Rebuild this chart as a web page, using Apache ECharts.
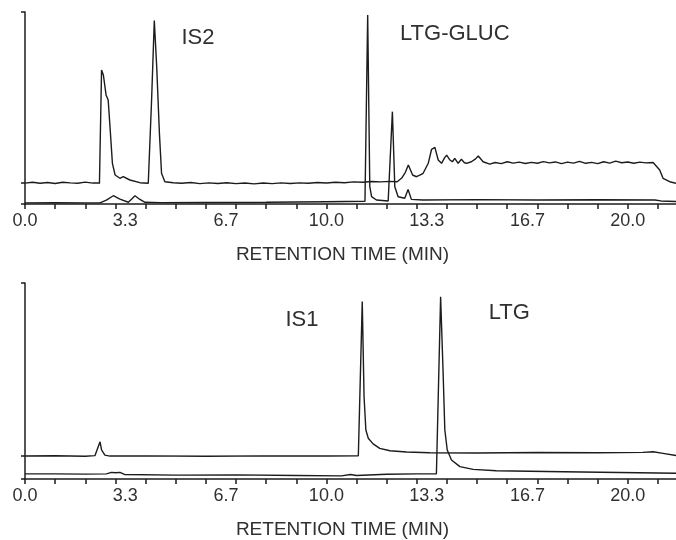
<!DOCTYPE html>
<html>
<head>
<meta charset="utf-8">
<script src="https://cdn.jsdelivr.net/npm/echarts@6/dist/echarts.min.js"></script>
<style>
  html, body { margin: 0; padding: 0; background: #fff; }
  #chart { width: 676px; height: 540px; }
</style>
</head>
<body>
<div id="chart"></div>
<script>
// Retention-time tick labels (minutes) and minor ticks (every minute)
const labelMinutes = [0, 3.33, 6.67, 10.0, 13.33, 16.67, 20.0];
const tickMinutes = [0, 1, 2, 3, 4, 5, 6, 7, 8, 9, 10, 11, 12, 13, 14, 15, 16, 17, 18, 19, 20, 21];

// Upper panel, offset trace: [time (min), relative response]
const upperOffsetTrace = [
  [0,10.9],[0.25,11.3],[0.5,10.8],[0.75,11.2],[1.0,10.7],[1.25,11.3],[1.5,11.0],[1.75,10.8],[2.0,11.4],[2.25,10.9],
  [2.4,11.0],[2.47,10.8],[2.54,69.8],[2.60,67.2],[2.69,56.8],[2.76,54.2],[2.82,40.3],[2.90,21.2],[2.99,15.1],
  [3.15,13.4],[3.26,14.2],[3.48,12.5],[3.81,11.1],[4.09,10.8],[4.12,11.0],[4.20,54],[4.29,95.5],[4.37,71.5],
  [4.46,36.8],[4.53,16],[4.64,11.6],[4.92,11.1],[5.2,10.8],[5.5,11.2],[5.8,10.6],[6.1,11.0],[6.4,10.7],[6.7,11.1],
  [7.0,10.6],[7.3,10.9],[7.6,10.5],[7.9,10.9],[8.2,10.6],[8.5,11.0],[8.8,10.7],[9.1,11.0],[9.4,10.8],[9.7,11.2],
  [10.0,10.9],[10.3,11.3],[10.6,11.1],[10.9,11.5],[11.2,11.3],[11.5,11.7],[11.8,11.5],[12.1,11.8],[12.35,11.6],
  [12.5,13.5],[12.62,16.5],[12.72,20.3],[12.77,20.0],[12.86,15.1],[12.99,14.2],[13.1,15.0],[13.21,16],[13.38,21.2],
  [13.49,28.5],[13.6,29.5],[13.71,22.9],[13.82,21.2],[13.92,24.0],[13.99,25.5],[14.10,22.9],[14.18,22.0],[14.26,23.8],
  [14.37,21.2],[14.48,23.3],[14.58,21.5],[14.65,21.2],[14.81,22],[14.95,23.5],[15.04,25],[15.2,22],[15.42,20.8],
  [15.6,21.6],[15.8,21.0],[16.0,22.0],[16.2,21.3],[16.4,21.8],[16.6,21.1],[16.8,21.7],[17.0,21.2],[17.2,22.1],
  [17.4,21.4],[17.6,21.9],[17.8,21.0],[18.0,21.8],[18.2,21.3],[18.4,22.2],[18.6,21.2],[18.8,21.7],[19.0,21.0],
  [19.2,22.0],[19.4,21.3],[19.6,22.3],[19.8,21.5],[20.0,21.9],[20.2,21.2],[20.4,21.8],[20.6,21.4],[20.84,21.6],
  [21.06,17.7],[21.17,13.4],[21.39,11.6],[21.6,10.8]
];

// Upper panel, base trace
const upperBaseTrace = [
  [0,0.6],[1.0,0.7],[2.0,0.6],[2.49,0.6],[2.7,2.0],[2.93,4.3],[3.15,2.5],[3.43,0.9],[3.65,4.3],[3.8,2.5],[3.98,0.9],
  [4.5,0.7],[6,0.8],[8,0.9],[10,1.2],[11.28,1.4],[11.37,98.4],[11.44,9],[11.5,3.8],[11.66,2.1],[12.05,1.6],
  [12.11,1.7],[12.19,48.1],[12.27,9],[12.38,3.8],[12.6,3],[12.71,7.6],[12.82,2.4],[13.2,2.1],[15,2.3],[17,2.1],
  [19,2.2],[20.9,2.1],[21.1,1.6],[21.6,1.3]
];

// Lower panel, offset trace
const lowerOffsetTrace = [
  [0,11.7],[1,11.9],[2,11.6],[2.32,11.9],[2.49,19],[2.54,14.8],[2.65,12.2],[2.82,11.7],[4,11.8],[6,11.6],[8,11.8],
  [10,11.7],[11.06,11.9],[11.19,90.5],[11.25,42],[11.31,25],[11.39,20.8],[11.55,17.9],[11.77,15.6],[12.11,14.4],
  [12.66,13.8],[13.43,13.4],[15,13.3],[17,13.5],[19,13.4],[20.5,13.6],[20.84,13.9],[21.17,13.1],[21.6,12]
];

// Lower panel, base trace
const lowerBaseTrace = [
  [0,2.6],[1,2.6],[2,2.5],[2.7,2.6],[2.87,3.4],[3.0,3.2],[3.15,3.4],[3.3,2.3],[5,2.0],[7,2.1],[9,1.8],[10.5,1.6],
  [10.8,2.3],[11.0,1.8],[12,2.4],[13.0,2.6],[13.65,2.6],[13.79,93],[13.87,55.6],[13.93,25],[14.01,14.8],[14.15,9.7],
  [14.43,6.3],[14.87,4.9],[15.64,4.2],[17.85,3.7],[21.6,2.9]
];

// Baseline marks on the response axis of each panel
const upperYTicks = [0, 10.9, 100];
const lowerYTicks = [0, 11.7, 100];

// Peak names with their [time, response] anchor
const upperPeakNames = [['IS2', 5.74, 86.5], ['LTG-GLUC', 14.26, 88.8]];
const lowerPeakNames = [['IS1', 9.19, 81], ['LTG', 16.07, 84.7]];

const axisTitle = 'RETENTION TIME (MIN)';

const ink = '#1c1c1c';
const textInk = '#303030';
const fontFamily = '"Liberation Sans", Arial, Helvetica, sans-serif';

function xAxisFor(gridIndex) {
  return {
    type: 'value', gridIndex: gridIndex, min: 0, max: 21.6,
    name: axisTitle, nameLocation: 'middle', nameGap: 41,
    nameTextStyle: { color: textInk, fontSize: 19, fontFamily: fontFamily, padding: [0, 16, 0, 0] },
    axisLine: { show: true, onZero: false, lineStyle: { color: ink, width: 1.5 } },
    axisTick: { show: true, inside: false, length: 5, customValues: tickMinutes, lineStyle: { color: ink, width: 1.5 } },
    axisLabel: {
      show: true, customValues: labelMinutes, margin: 8, color: textInk, fontSize: 18, fontFamily: fontFamily,
      formatter: v => v.toFixed(1), showMinLabel: true, showMaxLabel: true
    },
    splitLine: { show: false }
  };
}

function yAxisFor(gridIndex, ticks) {
  return {
    type: 'value', gridIndex: gridIndex, min: 0, max: 100,
    axisLine: { show: true, lineStyle: { color: ink, width: 1.5 } },
    axisTick: { show: true, inside: false, length: 4, customValues: ticks, lineStyle: { color: ink, width: 1.5 } },
    axisLabel: { show: false },
    splitLine: { show: false }
  };
}

function traceSeries(data, axisIndex, peaks) {
  const s = {
    type: 'line', xAxisIndex: axisIndex, yAxisIndex: axisIndex, data: data,
    showSymbol: false, symbol: 'none', smooth: false, silent: true, animation: false,
    lineStyle: { color: ink, width: 1.4 }
  };
  if (peaks) {
    s.markPoint = {
      symbol: 'circle', symbolSize: 0, silent: true, animation: false,
      label: {
        show: true, position: 'inside', formatter: '{b}', color: textInk,
        fontSize: 22, fontFamily: fontFamily
      },
      data: peaks.map(p => ({ name: p[0], coord: [p[1], p[2]] }))
    };
  }
  return s;
}

const chart = echarts.init(document.getElementById('chart'), null, { renderer: 'canvas' });
chart.setOption({
  backgroundColor: '#ffffff',
  animation: false,
  grid: [
    { left: 25, right: 0, top: 12, height: 192, containLabel: false, outerBoundsMode: 'none' },
    { left: 25, right: 0, top: 283, height: 196, containLabel: false, outerBoundsMode: 'none' }
  ],
  xAxis: [xAxisFor(0), xAxisFor(1)],
  yAxis: [yAxisFor(0, upperYTicks), yAxisFor(1, lowerYTicks)],
  series: [
    traceSeries(upperOffsetTrace, 0, upperPeakNames),
    traceSeries(upperBaseTrace, 0, null),
    traceSeries(lowerOffsetTrace, 1, lowerPeakNames),
    traceSeries(lowerBaseTrace, 1, null)
  ]
});
</script>
</body>
</html>
